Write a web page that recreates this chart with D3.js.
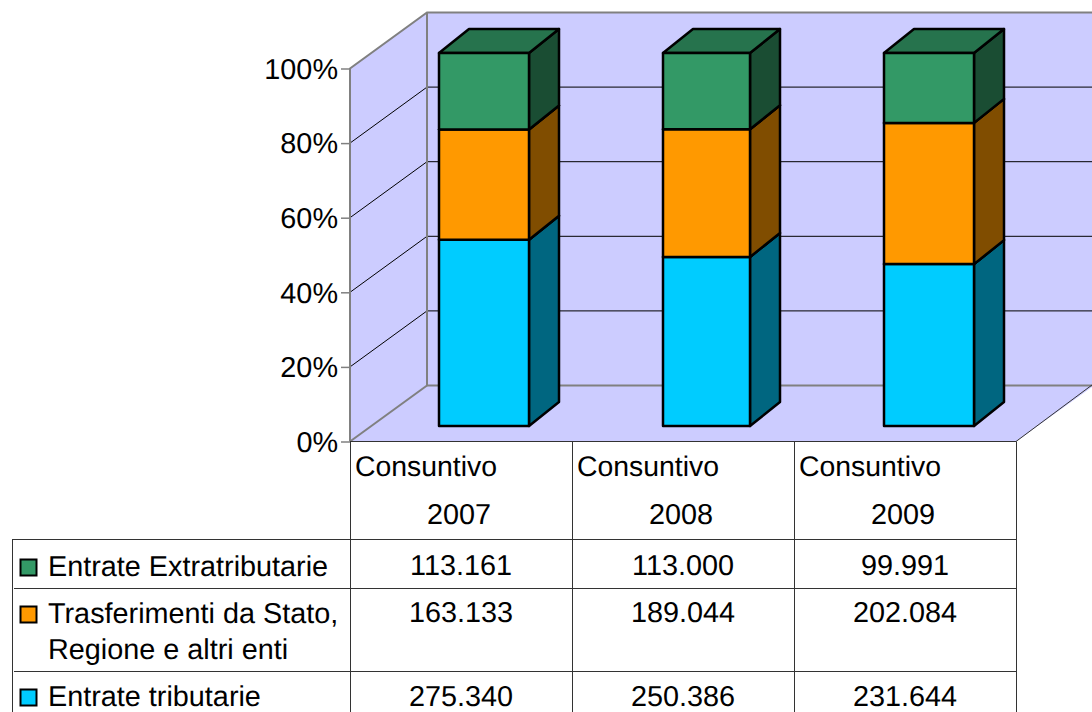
<!DOCTYPE html>
<html>
<head>
<meta charset="utf-8">
<script src="https://cdn.jsdelivr.net/npm/d3@7"></script>
<style>
  html, body { margin: 0; padding: 0; background: #fff; overflow: hidden; }
  text { font-family: "Liberation Sans", Arial, sans-serif; font-size: 28.8px; fill: #000; text-rendering: geometricPrecision; }
</style>
</head>
<body>
<div id="chart"></div>
<script>
// Values in thousands, as printed in the table
var years = ["2007", "2008", "2009"];
var seriesKeys = ["tributarie", "trasferimenti", "extra"];
var tributarie = [275.340, 250.386, 231.644];
var trasferimenti = [163.133, 189.044, 202.084];
var extra = [113.161, 113.000, 99.991];
var tributarieLabels = ["275.340", "250.386", "231.644"];
var trasferimentiLabels = ["163.133", "189.044", "202.084"];
var extraLabels = ["113.161", "113.000", "99.991"];
var yTicks = [0, 0.2, 0.4, 0.6, 0.8, 1];

var svgWidth = 1092;
var svgHeight = 712;

var svg = d3.select("#chart")
  .append("svg")
  .attr("width", svgWidth)
  .attr("height", svgHeight)
  .style("display", "block");

// Front plane of the plot and the shift to the back wall
var plot = { left: 350, right: 1016, top: 68.5, bottom: 441.5 };
var depth = { x: 77, y: -56 };
var barDepth = { x: 30, y: -24 };
var barShift = { x: 23, y: -15.5 };
var barWidth = 90;
// Pixel rounding of the bars: [left inset, right inset]
var barInset = { "2007": [0, 0], "2008": [2, 1], "2009": [1, -1] };

var rows = years.map(function(year, i) {
  return { year: year, tributarie: tributarie[i], trasferimenti: trasferimenti[i], extra: extra[i] };
});

var stacked = d3.stack().keys(seriesKeys).offset(d3.stackOffsetExpand)(rows);

var xScale = d3.scaleBand().domain(years).range([plot.left, plot.right]);
var yScale = d3.scaleLinear().domain([0, 1]).range([plot.bottom, plot.top]);

var colors = {
  tributarie: { front: "#00ccff", side: "#006680", top: "#0099bf" },
  trasferimenti: { front: "#ff9900", side: "#804d00", top: "#bf7300" },
  extra: { front: "#339966", side: "#1a4d33", top: "#26734d" }
};

var poly = function(points) {
  return points.map(function(p) { return p.join(","); }).join(" ");
};

// Walls and floor
var wallColor = "#ccccff";
var backX = plot.left + depth.x;
var backTop = plot.top + depth.y;
var backBottom = plot.bottom + depth.y;

svg.append("polygon")
  .attr("fill", wallColor)
  .attr("points", poly([[plot.left, plot.top], [backX, backTop], [svgWidth + 2, backTop],
    [svgWidth + 2, backBottom], [plot.right, plot.bottom], [plot.left, plot.bottom]]));

// Gridlines along the side wall and the back wall
var grid = svg.append("g");
yTicks.slice(1, -1).forEach(function(t) {
  var y0 = yScale(t);
  grid.append("polyline")
    .attr("fill", "none")
    .attr("stroke", "#000")
    .attr("stroke-width", 1)
    .attr("points", poly([[plot.left, y0], [backX, y0 + depth.y], [svgWidth + 2, y0 + depth.y]]));
});

// Grey frame of the walls
var frame = svg.append("g").attr("fill", "none").attr("stroke", "#808080").attr("stroke-width", 2);
frame.append("polyline")
  .attr("points", poly([[plot.left, plot.bottom], [plot.left, plot.top], [backX, backTop], [svgWidth + 2, backTop]]));
frame.append("polyline")
  .attr("points", poly([[backX, backTop], [backX, backBottom], [svgWidth + 2, backBottom]]));
frame.append("line")
  .attr("x1", plot.left).attr("y1", plot.bottom).attr("x2", backX).attr("y2", backBottom);

// Floor edge on the right
svg.append("line")
  .attr("x1", plot.right).attr("y1", plot.bottom).attr("x2", svgWidth + 2).attr("y2", backBottom - 2)
  .attr("stroke", "#333").attr("stroke-width", 1);

// Stacked 3d bars
var bars = svg.append("g")
  .attr("stroke", "#000")
  .attr("stroke-width", 2.5)
  .attr("stroke-linejoin", "round");

stacked.forEach(function(layer) {
  var c = colors[layer.key];
  var group = bars.append("g");
  layer.forEach(function(d) {
    var inset = barInset[d.data.year];
    var x0 = xScale(d.data.year) + xScale.bandwidth() / 2 - barWidth / 2 + barShift.x + inset[0];
    var x1 = x0 + barWidth - inset[0] - inset[1];
    var yLow = yScale(d[0]) + barShift.y;
    var yHigh = yScale(d[1]) + barShift.y;

    group.append("polygon")
      .attr("fill", c.side)
      .attr("points", poly([[x1, yLow], [x1 + barDepth.x, yLow + barDepth.y],
        [x1 + barDepth.x, yHigh + barDepth.y], [x1, yHigh]]));
    group.append("polygon")
      .attr("fill", c.top)
      .attr("points", poly([[x0, yHigh], [x0 + barDepth.x, yHigh + barDepth.y],
        [x1 + barDepth.x, yHigh + barDepth.y], [x1, yHigh]]));
    group.append("rect")
      .attr("fill", c.front)
      .attr("x", x0).attr("y", yHigh)
      .attr("width", x1 - x0).attr("height", yLow - yHigh);
  });
});

// Percent axis
var yAxis = svg.append("g")
  .attr("transform", "translate(" + plot.left + ",0)")
  .call(d3.axisLeft(yScale).tickValues(yTicks).tickFormat(d3.format(".0%")).tickSize(9).tickPadding(3));
yAxis.select(".domain").remove();
yAxis.selectAll("line").attr("stroke", "#808080").attr("stroke-width", 1.5);
yAxis.selectAll("text").attr("dy", "0.34em").style("font-size", "28.8px");

// Data table under the plot
var tableLeft = 12;
var tableLines = { header: 539.5, first: 588.5, second: 671.5 };
var table = svg.append("g").attr("stroke", "#333").attr("stroke-width", 1);

table.append("line")
  .attr("x1", plot.left).attr("y1", plot.bottom).attr("x2", plot.right).attr("y2", plot.bottom);
table.append("line")
  .attr("x1", tableLeft).attr("y1", tableLines.header).attr("x2", plot.right).attr("y2", tableLines.header);
[tableLines.first, tableLines.second].forEach(function(y) {
  table.append("line")
    .attr("x1", tableLeft + 2).attr("y1", y).attr("x2", plot.right).attr("y2", y);
});
table.append("line")
  .attr("x1", tableLeft + 0.5).attr("y1", tableLines.header).attr("x2", tableLeft + 0.5).attr("y2", svgHeight);
years.forEach(function(year) {
  var x = Math.round(xScale(year)) + 0.5;
  table.append("line")
    .attr("x1", x).attr("y1", plot.bottom).attr("x2", x).attr("y2", svgHeight);
});
table.append("line")
  .attr("x1", plot.right + 0.5).attr("y1", plot.bottom).attr("x2", plot.right + 0.5).attr("y2", svgHeight);

// Column headers
years.forEach(function(year) {
  var cx = xScale(year) + xScale.bandwidth() / 2;
  svg.append("text").attr("x", xScale(year) + 5).attr("y", 476).style("font-size", "28.4px").text("Consuntivo");
  svg.append("text").attr("x", cx - 2).attr("y", 524).attr("text-anchor", "middle").text(year);
});

// Table values
var valueRows = [
  { labels: extraLabels, y: 575 },
  { labels: trasferimentiLabels, y: 622 },
  { labels: tributarieLabels, y: 706 }
];
valueRows.forEach(function(row) {
  row.labels.forEach(function(label, i) {
    svg.append("text")
      .attr("x", xScale(years[i]) + xScale.bandwidth() / 2)
      .attr("y", row.y)
      .attr("text-anchor", "middle")
      .text(label);
  });
});

// Legend keys in the first column
var legendRows = [
  { key: "extra", lines: ["Entrate Extratributarie"], y: 576 },
  { key: "trasferimenti", lines: ["Trasferimenti da Stato,", "Regione e altri enti"], y: 623 },
  { key: "tributarie", lines: ["Entrate tributarie"], y: 706 }
];
legendRows.forEach(function(row) {
  svg.append("rect")
    .attr("x", 20.5).attr("y", row.y - 16.5)
    .attr("width", 16).attr("height", 16)
    .attr("fill", colors[row.key].front)
    .attr("stroke", "#000")
    .attr("stroke-width", 2);
  row.lines.forEach(function(line, i) {
    svg.append("text").attr("x", 48).attr("y", row.y + i * 36).text(line);
  });
});
</script>
</body>
</html>
